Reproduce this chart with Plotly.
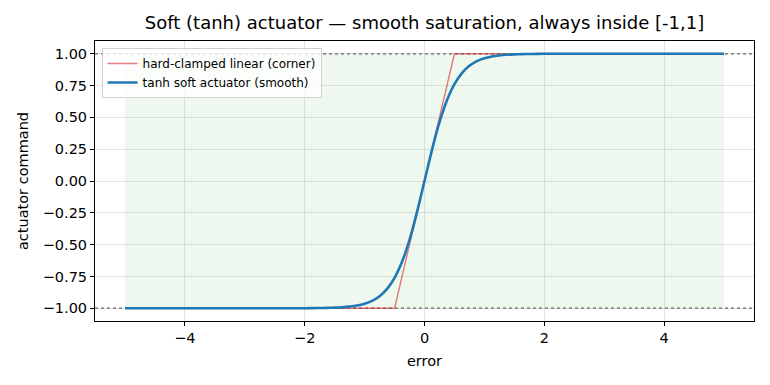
import plotly.graph_objects as go

# data
clamp_x = [-5.0, -0.5, 0.5, 5.0]
clamp_y = [-1.0, -1.0, 1.0, 1.0]

tanh_x = [-5.0, -3.0, -2.5, -2.0, -1.75, -1.625, -1.5, -1.375, -1.25, -1.125, -1.0,
          -0.875, -0.75, -0.625, -0.5, -0.375, -0.25, -0.125, 0.0,
          0.125, 0.25, 0.375, 0.5, 0.625, 0.75, 0.875,
          1.0, 1.125, 1.25, 1.375, 1.5, 1.625, 1.75, 2.0, 2.5, 3.0, 5.0]
tanh_y = [-1.0, -0.99999, -0.99991, -0.99933, -0.99818, -0.99700, -0.99505, -0.99186, -0.98661, -0.97803, -0.96403,
          -0.94138, -0.90515, -0.84828, -0.76159, -0.63515, -0.46212, -0.24492, 0.0,
          0.24492, 0.46212, 0.63515, 0.76159, 0.84828, 0.90515, 0.94138,
          0.96403, 0.97803, 0.98661, 0.99186, 0.99505, 0.99700, 0.99818, 0.99933, 0.99991, 0.99999, 1.0]

limits = [-1.0, 1.0]
y_ticks = [-1.0, -0.75, -0.5, -0.25, 0.0, 0.25, 0.5, 0.75, 1.0]
x_ticks = [-4, -2, 0, 2, 4]

FONT = "DejaVu Sans"

fig = go.Figure()
fig.add_trace(go.Scatter(x=clamp_x, y=clamp_y, mode="lines",
                         name="hard-clamped linear (corner)",
                         line=dict(color="rgba(214,39,40,0.6)", width=1.4)))
fig.add_trace(go.Scatter(x=tanh_x, y=tanh_y, mode="lines",
                         name="tanh soft actuator (smooth)",
                         line=dict(color="#1f77b4", width=2.6, shape="spline", smoothing=0.6)))

shapes = [dict(type="rect", xref="x", yref="y", x0=min(tanh_x), x1=max(tanh_x),
               y0=limits[0], y1=limits[1], fillcolor="rgba(44,160,44,0.075)",
               line=dict(width=0), layer="below")]
for lv in limits:
    shapes.append(dict(type="line", xref="paper", yref="y", x0=0, x1=1, y0=lv, y1=lv,
                       line=dict(color="#6a6a6a", width=1.3, dash="dot"),
                       layer="below"))

fig.update_layout(
    width=770, height=385,
    margin=dict(l=95, r=16, t=41, b=64),
    paper_bgcolor="white", plot_bgcolor="white",
    font=dict(family=FONT, size=14.5, color="black"),
    title=dict(text="Soft (tanh) actuator — smooth saturation, always inside [-1,1]",
               x=0.5, xref="paper", xanchor="center", y=1, yref="container",
               yanchor="top", pad=dict(t=16), font=dict(size=18)),
    shapes=shapes,
    showlegend=True,
    legend=dict(x=0.01, y=0.975, xanchor="left", yanchor="top",
                bgcolor="rgba(255,255,255,0.8)", bordercolor="#d0d0d0", borderwidth=1,
                font=dict(size=12), tracegroupgap=0, itemwidth=30),
    hovermode=False,
)
fig.update_xaxes(range=[-5.5, 5.5], tickvals=x_ticks, ticktext=[("−" + str(-t)) if t < 0 else str(t) for t in x_ticks],
                 showgrid=True, gridcolor="rgba(176,176,176,0.35)", gridwidth=1,
                 zeroline=False, showline=True, linecolor="black", linewidth=1, mirror=True,
                 ticks="outside", ticklen=4, tickcolor="black", tickfont=dict(size=14.5),
                 title=dict(text="error", font=dict(size=14.5), standoff=10))
fig.update_yaxes(range=[-1.1, 1.1], tickvals=y_ticks,
                 ticktext=[("−" + f"{-t:.2f}") if t < 0 else f"{t:.2f}" for t in y_ticks],
                 showgrid=True, gridcolor="rgba(176,176,176,0.35)", gridwidth=1,
                 zeroline=False, showline=True, linecolor="black", linewidth=1, mirror=True,
                 ticks="outside", ticklen=4, tickcolor="black", tickfont=dict(size=14.5),
                 title=dict(text="actuator command", font=dict(size=14.5), standoff=10))

fig.write_html("out.html")
